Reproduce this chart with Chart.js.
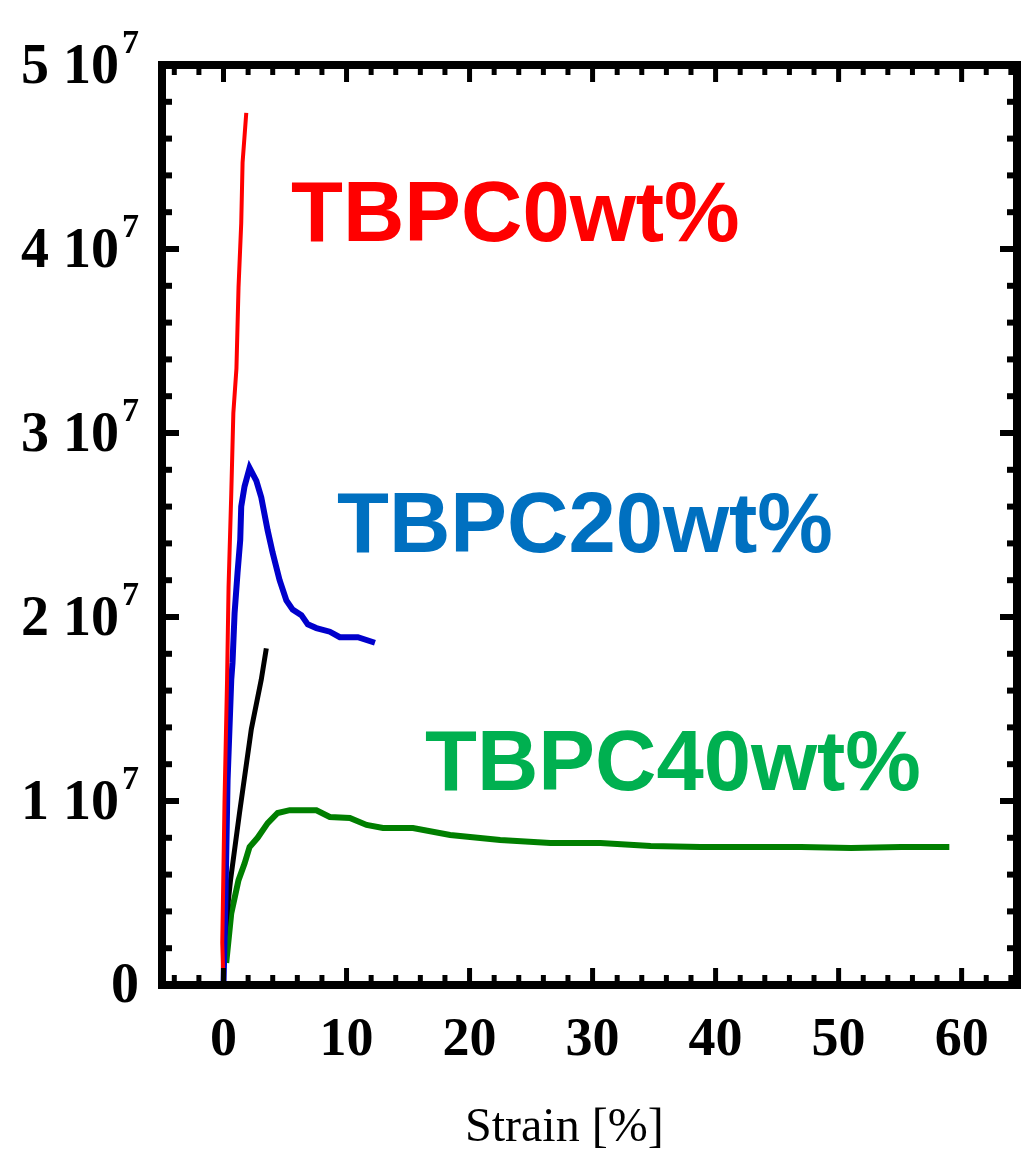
<!DOCTYPE html>
<html>
<head>
<meta charset="utf-8">
<script src="https://cdn.jsdelivr.net/npm/chart.js@4/dist/chart.umd.min.js"></script>
<style>
  html, body { margin: 0; padding: 0; background: #fff; }
  canvas { display: block; }
</style>
</head>
<body>
<canvas id="strainChart" width="1021" height="1151"></canvas>
<script>
// Tick values / labels
const xTickValues = [0, 10, 20, 30, 40, 50, 60];
const yTickValues = [0, 1e7, 2e7, 3e7, 4e7, 5e7];
const yTickMantissas = ['0', '1', '2', '3', '4', '5'];
const yTickExponent = '7';

// Curves (strain in %, stress)
const redStrain = [0, -0.1, 0.08, 0.29, 0.41, 0.63, 0.8, 1.05, 1.22, 1.44, 1.55, 1.85];
const redStress = [0, 2.3e6, 9.9e6, 16.6e6, 21.6e6, 26.7e6, 31.1e6, 33.5e6, 37.9e6, 41.4e6, 44.7e6, 47.4e6];

const blueStrain = [0, 0.16, 0.33, 0.63, 0.73, 0.90, 1.14, 1.36, 1.44, 1.71, 2.12, 2.67, 3.07, 3.59, 3.99, 4.56, 5.11, 5.62, 6.33, 6.85, 7.55, 8.64, 9.45, 10.27, 10.92, 12.31];
const blueStress = [0, 4.8e6, 11.1e6, 16.6e6, 17.5e6, 20.2e6, 22.4e6, 24.2e6, 26.0e6, 27.1e6, 28.1e6, 27.4e6, 26.5e6, 24.7e6, 23.5e6, 22.0e6, 20.9e6, 20.4e6, 20.1e6, 19.6e6, 19.4e6, 19.2e6, 18.9e6, 18.9e6, 18.9e6, 18.6e6];

const blackStrain = [0, 0, 0.57, 1.30, 2.26, 3.07, 3.48];
const blackStress = [0, 2.1e6, 5.7e6, 9.35e6, 13.9e6, 16.6e6, 18.3e6];

const greenStrain = [0.22, 0.63, 1.22, 1.71, 2.12, 2.77, 3.59, 4.40, 5.38, 7.55, 8.64, 10.27, 11.63, 12.96, 15.40, 18.42, 22.49, 26.57, 30.64, 34.72, 38.79, 46.94, 51.02, 55.09, 59.0];
const greenStress = [1.2e6, 3.9e6, 5.7e6, 6.6e6, 7.5e6, 8.0e6, 8.8e6, 9.35e6, 9.5e6, 9.5e6, 9.13e6, 9.08e6, 8.7e6, 8.53e6, 8.53e6, 8.15e6, 7.88e6, 7.72e6, 7.72e6, 7.55e6, 7.5e6, 7.5e6, 7.45e6, 7.5e6, 7.5e6];

// Curve annotations
const curveLabels = ['TBPC0wt%', 'TBPC20wt%', 'TBPC40wt%'];
const xAxisTitle = 'Strain [%]';

function toPoints(xs, ys) {
    return xs.map((v, i) => ({ x: v, y: ys[i] }));
}

// Frame with inward ticks on all four sides, y labels, text annotations
const framePlugin = {
    id: 'frame',
    afterDraw(chart) {
        const ctx = chart.ctx;
        const a = chart.chartArea;
        const xs = chart.scales.x;
        const ys = chart.scales.y;
        ctx.save();
        ctx.strokeStyle = '#000';
        ctx.lineCap = 'butt';

        function seg(x1, y1, x2, y2) {
            ctx.beginPath();
            ctx.moveTo(x1, y1);
            ctx.lineTo(x2, y2);
            ctx.stroke();
        }

        ctx.lineWidth = 5;
        for (let v = -4; v <= 64; v += 2) {
            const px = xs.getPixelForValue(v);
            const len = v % 10 === 0 ? 17 : 10;
            seg(px, a.bottom, px, a.bottom - len);
            seg(px, a.top, px, a.top + len);
        }
        ctx.lineWidth = 6;
        for (let v = 2e6; v < 5e7; v += 2e6) {
            const py = ys.getPixelForValue(v);
            const len = (v % 1e7 === 0) ? 17 : 10;
            seg(a.left, py, a.left + len, py);
            seg(a.right, py, a.right - len, py);
        }

        ctx.lineWidth = 8;
        ctx.strokeRect(a.left, a.top, a.right - a.left, a.bottom - a.top);

        // y tick labels: "m 10^7"
        ctx.fillStyle = '#000';
        ctx.textBaseline = 'alphabetic';
        ctx.textAlign = 'right';
        const labelRight = 139;
        yTickValues.forEach((v, i) => {
            const py = ys.getPixelForValue(v);
            if (v === 0) {
                ctx.font = 'bold 56px "Liberation Serif"';
                ctx.fillText(yTickMantissas[i], labelRight, py + 17);
                return;
            }
            ctx.font = 'bold 34px "Liberation Serif"';
            const supW = ctx.measureText(yTickExponent).width;
            ctx.fillText(yTickExponent, labelRight, py - 12);
            ctx.font = 'bold 56px "Liberation Serif"';
            ctx.fillText(yTickMantissas[i] + ' 10', labelRight - supW - 3, py + 18);
        });

        // x axis title
        ctx.textAlign = 'left';
        ctx.font = '48px "Liberation Serif"';
        ctx.fillText(xAxisTitle, 465, 1141);

        // curve annotations
        ctx.font = 'bold 85px "Liberation Sans"';
        ctx.fillStyle = '#FF0000';
        ctx.fillText(curveLabels[0], 291, 241);
        ctx.fillStyle = '#0070C0';
        ctx.fillText(curveLabels[1], 337, 552);
        ctx.fillStyle = '#00B050';
        ctx.fillText(curveLabels[2], 425, 790);
        ctx.restore();
    }
};

const ctx = document.getElementById('strainChart').getContext('2d');

new Chart(ctx, {
    type: 'scatter',
    data: {
        datasets: [
            {
                label: 'TBPC0wt%',
                data: toPoints(redStrain, redStress),
                borderColor: '#FF0000',
                borderWidth: 4
            },
            {
                label: 'TBPC20wt%',
                data: toPoints(blueStrain, blueStress),
                borderColor: '#0000CC',
                borderWidth: 6
            },
            {
                label: 'black',
                data: toPoints(blackStrain, blackStress),
                borderColor: '#000000',
                borderWidth: 5
            },
            {
                label: 'TBPC40wt%',
                data: toPoints(greenStrain, greenStress),
                borderColor: '#007F00',
                borderWidth: 6
            }
        ].map(ds => Object.assign(ds, { showLine: true, pointRadius: 0, fill: false, tension: 0 }))
    },
    options: {
        responsive: false,
        animation: false,
        layout: {
            padding: { top: 65, right: 4, left: 0, bottom: 0 }
        },
        plugins: {
            legend: { display: false },
            tooltip: { enabled: false }
        },
        scales: {
            x: {
                type: 'linear',
                min: -5,
                max: 64.5,
                afterBuildTicks: (scale) => {
                    scale.ticks = xTickValues.map(v => ({ value: v }));
                },
                afterFit: (scale) => { scale.height = 166; },
                grid: { display: false, drawTicks: false },
                border: { display: false },
                ticks: {
                    color: '#000',
                    padding: 24,
                    maxRotation: 0,
                    autoSkip: false,
                    font: { family: '"Liberation Serif"', size: 54, weight: 'bold' }
                }
            },
            y: {
                type: 'linear',
                min: 0,
                max: 5e7,
                afterFit: (scale) => { scale.width = 162; },
                grid: { display: false, drawTicks: false },
                border: { display: false },
                ticks: { display: false }
            }
        }
    },
    plugins: [framePlugin]
});
</script>
</body>
</html>
